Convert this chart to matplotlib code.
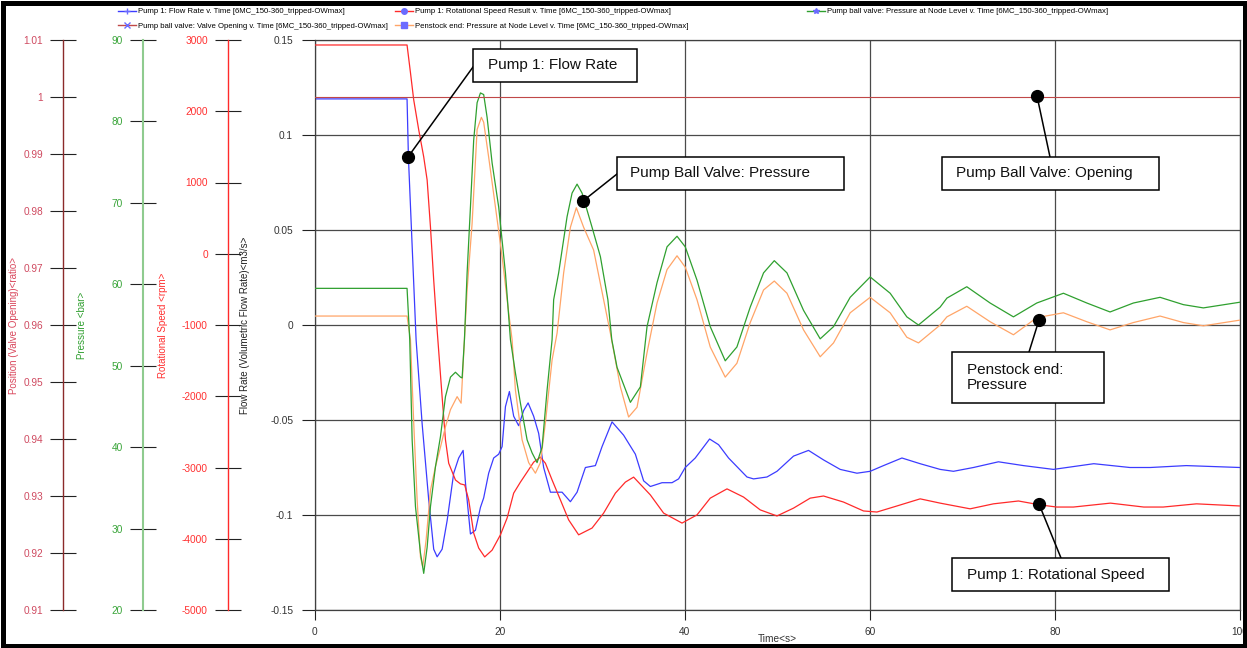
import matplotlib.pyplot as plt
from matplotlib.lines import Line2D
from matplotlib.patches import Rectangle

plt.rcParams['font.family'] = ['Liberation Sans', 'DejaVu Sans']
plt.rcParams['axes.unicode_minus'] = False

# ---- data (time in s) ----
flow_t = [0, 10.0, 10.15, 10.98, 11.63, 12.34, 12.88, 13.25, 13.79, 14.33,
          15.04, 15.58, 16.06, 16.31, 16.85, 17.39, 17.93, 18.28, 18.82, 19.36,
          19.90, 20.27, 20.63, 21.06, 21.52, 22.06, 22.60, 23.08, 23.68, 24.22,
          24.76, 25.49, 26.21, 26.75, 27.65, 28.37, 29.27, 30.35, 31.07, 32.15,
          33.40, 34.67, 35.56, 36.29, 37.55, 38.63, 39.34, 40.06, 41.14, 42.69,
          43.66, 44.74, 46.73, 47.44, 48.89, 49.97, 51.76, 53.38, 55.00, 56.80,
          58.61, 60.04, 61.48, 63.47, 65.44, 67.6, 69.04, 71.2, 73.9, 76.6,
          79.84, 84.2, 88.1, 90.3, 94.2, 100]
flow_q = [0.119, 0.119, 0.088, -0.008, -0.052, -0.092, -0.118, -0.122, -0.118, -0.103,
          -0.078, -0.070, -0.066, -0.083, -0.110, -0.108, -0.096, -0.091, -0.078, -0.070,
          -0.068, -0.064, -0.043, -0.035, -0.048, -0.053, -0.045, -0.041, -0.048, -0.057,
          -0.075, -0.088, -0.088, -0.088, -0.093, -0.088, -0.075, -0.074, -0.064, -0.051,
          -0.058, -0.068, -0.082, -0.085, -0.083, -0.083, -0.081, -0.075, -0.070, -0.060,
          -0.063, -0.070, -0.080, -0.081, -0.080, -0.077, -0.069, -0.066, -0.071, -0.076,
          -0.078, -0.077, -0.074, -0.070, -0.073, -0.076, -0.077, -0.075, -0.072, -0.074,
          -0.076, -0.073, -0.075, -0.075, -0.074, -0.075]

speed_t = [0, 10.0, 10.37, 10.72, 11.26, 11.80, 12.17, 12.53, 12.88, 13.25,
           13.79, 14.15, 14.50, 15.23, 15.77, 16.23, 16.66, 17.20, 17.74, 18.39,
           19.19, 20.09, 20.81, 21.52, 22.25, 22.97, 23.68, 24.41, 24.95, 25.67,
           26.57, 27.46, 28.54, 29.99, 31.24, 32.51, 33.59, 34.48, 36.29,
           37.72, 39.71, 41.33, 42.76, 44.57, 46.36, 48.16, 49.97, 51.76, 53.56,
           55.0, 57.16, 59.32, 60.77, 62.93, 65.44, 67.6, 70.84, 73.36, 76.06,
           78.4, 80.2, 82.0, 86.0, 89.6, 91.7, 95.3, 100]
speed_n = [2930, 2930, 2540, 2160, 1740, 1360, 1035, 375, -370, -1070,
           -2010, -2610, -2940, -3175, -3230, -3245, -3455, -3920, -4130, -4255,
           -4160, -3945, -3710, -3360, -3205, -3065, -2925, -2855, -2940, -3175,
           -3455, -3735, -3945, -3850, -3640, -3360, -3205, -3135, -3385,
           -3640, -3780, -3665, -3430, -3300, -3415, -3595, -3680, -3570, -3430,
           -3400, -3485, -3610, -3625, -3540, -3440, -3500, -3580, -3510, -3470,
           -3525, -3555, -3555, -3500, -3555, -3555, -3510, -3540]

pbv_t = [0, 10.0, 10.29, 10.55, 10.91, 11.45, 11.80, 12.17, 12.53, 13.07,
         13.61, 14.15, 14.69, 15.23, 15.77, 15.95, 16.2, 16.49, 16.85, 17.2,
         17.57, 17.93, 18.28, 18.65, 19.19, 19.9, 20.63, 21.17, 21.71, 22.25,
         22.97, 23.51, 24.05, 24.59, 25.13, 25.67, 25.84, 26.38, 27.29, 27.83,
         28.37, 28.91, 29.99, 30.89, 31.7, 32.12, 32.69, 34.13, 35.21, 35.93, 37.01,
         38.09, 39.17, 40.06, 41.33, 42.76, 44.38, 45.64, 47.08, 48.52, 49.68,
         51.05, 52.84, 54.64, 56.08, 57.88, 60.04, 62.2, 64.0, 65.26, 67.6,
         68.33, 70.48, 73.0, 75.52, 78.04, 80.92, 83.45, 85.96, 88.48, 91.36,
         93.88, 96.04, 100]
pbv_p = [59.5, 59.5, 53.2, 40.9, 32.7, 27.0, 24.5, 27.7, 32.7, 37.6,
         41.3, 46.2, 48.6, 49.2, 48.6, 48.5, 53.2, 61.4, 69.5, 77.7,
         82.3, 83.5, 83.3, 80.5, 74.9, 69.5, 61.4, 53.2, 49.1, 45.4,
         40.9, 39.3, 38.1, 40.0, 47.0, 53.2, 58.1, 61.4, 68.3, 71.2,
         72.3, 71.2, 67.0, 63.4, 58.1, 53.2, 49.8, 45.5, 47.4, 54.8, 60.2,
         64.6, 65.9, 64.6, 60.5, 54.8, 50.6, 52.3, 57.2, 61.4, 62.9,
         61.4, 56.8, 53.3, 54.8, 58.4, 60.9, 58.9, 56.0, 55.0, 57.2,
         58.3, 59.7, 57.7, 56.0, 57.7, 58.9, 57.7, 56.6, 57.7, 58.4,
         57.5, 57.1, 57.8]

pen_t = [0, 10.0, 10.37, 10.72, 11.09, 11.45, 11.7, 12.06, 12.53, 13.07,
         13.61, 14.15, 14.69, 15.41, 15.84, 16.2, 16.49, 17.03, 17.57, 18.03,
         18.28, 18.82, 19.55, 20.27, 20.98, 21.35, 21.71, 22.43, 23.14, 23.87,
         24.41, 24.95, 25.67, 26.21, 26.92, 27.65, 28.29, 29.08, 30.16, 31.24,
         31.97, 33.05, 33.94, 34.85, 35.93, 37.01, 38.09, 39.17, 40.06, 41.33,
         42.76, 44.38, 45.64, 47.08, 48.52, 49.68, 51.05, 52.84, 54.64, 56.08,
         57.88, 60.04, 62.2, 64.0, 65.26, 67.6, 68.33, 70.48, 73.0, 75.52,
         78.04, 80.92, 83.45, 85.96, 88.48, 91.36, 93.88, 96.04, 100]
pen_p = [56.1, 56.1, 53.2, 43.0, 33.5, 26.5, 25.3, 28.6, 34.7, 37.6,
         40.0, 42.5, 44.6, 46.2, 45.4, 53.2, 59.3, 67.5, 79.0, 80.5,
         79.9, 75.6, 69.5, 63.4, 56.5, 53.2, 47.0, 40.9, 38.1, 36.8,
         38.1, 43.0, 50.7, 54.0, 61.4, 67.0, 69.4, 67.0, 64.2, 58.1,
         54.0, 47.4, 43.7, 44.9, 51.6, 57.7, 61.8, 63.5, 62.1, 58.1,
         52.3, 48.6, 50.3, 55.3, 59.3, 60.4, 58.9, 54.4, 51.1, 52.8,
         56.5, 58.4, 56.5, 53.5, 52.8, 55.0, 56.0, 57.3, 55.4, 53.8,
         55.9, 56.5, 55.4, 54.4, 55.3, 56.1, 55.3, 54.9, 55.6]

valve_t = [0, 100]
valve_pos = [1.0, 1.0]

time_ticks = [0, 20, 40, 60, 80, 100]
flow_ticks = [-0.15, -0.1, -0.05, 0, 0.05, 0.1, 0.15]
flow_labels = ['-0.15', '-0.1', '-0.05', '0', '0.05', '0.1', '0.15']
speed_ticks = [-5000, -4000, -3000, -2000, -1000, 0, 1000, 2000, 3000]
pres_ticks = [20, 30, 40, 50, 60, 70, 80, 90]
pos_ticks = [0.91, 0.92, 0.93, 0.94, 0.95, 0.96, 0.97, 0.98, 0.99, 1.0, 1.01]
pos_labels = ['0.91', '0.92', '0.93', '0.94', '0.95', '0.96', '0.97', '0.98', '0.99', '1', '1.01']

run = '[6MC_150-360_tripped-OWmax]'
legend_names = [
    f'Pump 1: Flow Rate v. Time {run}',
    f'Pump ball valve: Valve Opening v. Time {run}',
    f'Pump 1: Rotational Speed Result v. Time {run}',
    f'Penstock end: Pressure at Node Level v. Time {run}',
    f'Pump ball valve: Pressure at Node Level v. Time {run}',
]

# ---- layout (pixels of the 1247x648 picture) ----
W, H = 1247, 648
L, R, T, B = 314.5, 1240, 40, 610


def px(x, y):
    return x / W, 1 - y / H


C_FLOW = '#3c3cff'
C_SPEED = '#ff2a2a'
C_PBV = '#2fa02f'
C_PEN = '#ffa568'
C_VALVE = '#c04848'
MK = '#6b6bff'

fig = plt.figure(figsize=(W / 100, H / 100), dpi=100)
ax = fig.add_axes([L / W, 1 - B / H, (R - L) / W, (B - T) / H])
ax.set_xlim(0, 100)
ax.set_ylim(-0.15, 0.15)
ax.set_xticks(time_ticks)
ax.set_yticks(flow_ticks)
ax.set_yticklabels(flow_labels)
ax.grid(True, color='#4a4a4a', lw=0.9)
ax.set_axisbelow(True)
for s in ax.spines.values():
    s.set_color('#404040')
    s.set_linewidth(0.9)
ax.tick_params(axis='y', direction='out', length=9.4, width=0.8, color='#222222',
               pad=6, labelsize=7.3, labelcolor='#333333')
ax.tick_params(axis='x', direction='out', length=7.2, width=0.8, color='#222222',
               pad=5, labelsize=7.3, labelcolor='#333333')
ax.set_xlabel('Time<s>', fontsize=7.3, color='#333333')
ax.xaxis.set_label_coords(0.5, -(634 - B) / (B - T))
ax.xaxis.label.set_va('top')


def side_axis(xpix, spine_color, spine_lw, label_color, ylim, ticks, labels=None):
    a = ax.twinx()
    for s in a.spines.values():
        s.set_visible(False)
    sp = a.spines['left']
    sp.set_visible(True)
    sp.set_position(('axes', (xpix - L) / (R - L)))
    sp.set_color(spine_color)
    sp.set_linewidth(spine_lw)
    a.yaxis.tick_left()
    a.set_ylim(*ylim)
    a.set_yticks(ticks)
    if labels is not None:
        a.set_yticklabels(labels)
    a.tick_params(axis='y', direction='inout', length=19.4, width=0.8, color='#222222',
                  pad=5, labelsize=7.3, labelcolor=label_color)
    return a


ax_speed = side_axis(228.3, '#ff2a2a', 1.0, '#ff3030', (-5000, 3000), speed_ticks)
ax_pres = side_axis(143.3, '#8fcb8f', 1.5, '#3aa53a', (20, 90), pres_ticks)
ax_pos = side_axis(63.3, '#8b2a2a', 1.0, '#cf4a60', (0.91, 1.01), pos_ticks, pos_labels)

ax.plot(flow_t, flow_q, color=C_FLOW, lw=0.9)
ax_speed.plot(speed_t, speed_n, color=C_SPEED, lw=0.9)
ax_pres.plot(pen_t, pen_p, color=C_PEN, lw=0.9)
ax_pres.plot(pbv_t, pbv_p, color=C_PBV, lw=0.9)
ax_pos.plot(valve_t, valve_pos, color=C_VALVE, lw=0.8)

# axis titles
fig.text(*px(14, 325), 'Position (Valve Opening)<ratio>', rotation=90, ha='center',
         va='center', fontsize=7, color='#d9475c')
fig.text(*px(82, 325), 'Pressure <bar>', rotation=90, ha='center', va='center',
         fontsize=7, color='#2f9f2f')
fig.text(*px(163, 325), 'Rotational Speed <rpm>', rotation=90, ha='center', va='center',
         fontsize=7, color='#ff3030')
fig.text(*px(245, 325), 'Flow Rate (Volumetric Flow Rate)<m3/s>', rotation=90,
         ha='center', va='center', fontsize=7, color='#222222')


# legend
def handle(color, marker):
    return Line2D([], [], color=color, lw=1, marker=marker, markersize=4,
                  markerfacecolor=MK, markeredgecolor=MK)


handles = [handle(C_FLOW, '+'), handle(C_VALVE, 'x'), handle(C_SPEED, 'o'),
           handle(C_PEN, 's'), handle(C_PBV, '*')]
leg_kw = dict(loc='upper left', frameon=False, fontsize=5.6, handlelength=2.3,
              handletextpad=0.3, labelspacing=0.9, borderpad=0, borderaxespad=0,
              columnspacing=0.9)
fig.legend(handles[:4], legend_names[:4], ncol=2, bbox_to_anchor=px(118, 8), **leg_kw)
fig.legend(handles[4:], legend_names[4:], ncol=1, bbox_to_anchor=px(807, 8), **leg_kw)

# call-out boxes: text, box (x0, y0, x1, y1), text x, leader start, dot
notes = [
    ('Pump 1: Flow Rate', (473, 49, 637, 82), 488, (473, 67), (408, 157)),
    ('Pump Ball Valve: Pressure', (617, 157, 844, 190), 630, (617, 174), (583, 201)),
    ('Pump Ball Valve: Opening', (942, 157, 1159, 190), 956, (1050, 157), (1037, 96)),
    ('Penstock end:\nPressure', (952, 352, 1104, 403), 967, (1029, 352), (1039, 320)),
    ('Pump 1: Rotational Speed', (952, 558, 1169, 591), 967, (1061, 558), (1039, 504)),
]
for text, (x0, y0, x1, y1), tx, (lx, ly), (dx, dy) in notes:
    fig.add_artist(Line2D([lx / W, dx / W], [1 - ly / H, 1 - dy / H],
                          color='black', lw=1.1))
    fig.add_artist(Line2D([dx / W], [1 - dy / H], marker='o', markersize=8.5,
                          color='black'))
    bx, by = px(x0, y1)
    fig.add_artist(Rectangle((bx, by), (x1 - x0) / W, (y1 - y0) / H,
                             transform=fig.transFigure, facecolor='white',
                             edgecolor='black', lw=1.1, zorder=3))
    fig.text(*px(tx, (y0 + y1) / 2), text, ha='left', va='center', fontsize=11,
             color='#111111', linespacing=1.1, zorder=4)

# outer frame
fig.add_artist(Rectangle((2.5 / W, 2.5 / H), 1 - 5 / W, 1 - 5 / H,
                         transform=fig.transFigure, fill=False,
                         edgecolor='black', lw=3.6, zorder=5))

fig.savefig('out.png', dpi=100)
